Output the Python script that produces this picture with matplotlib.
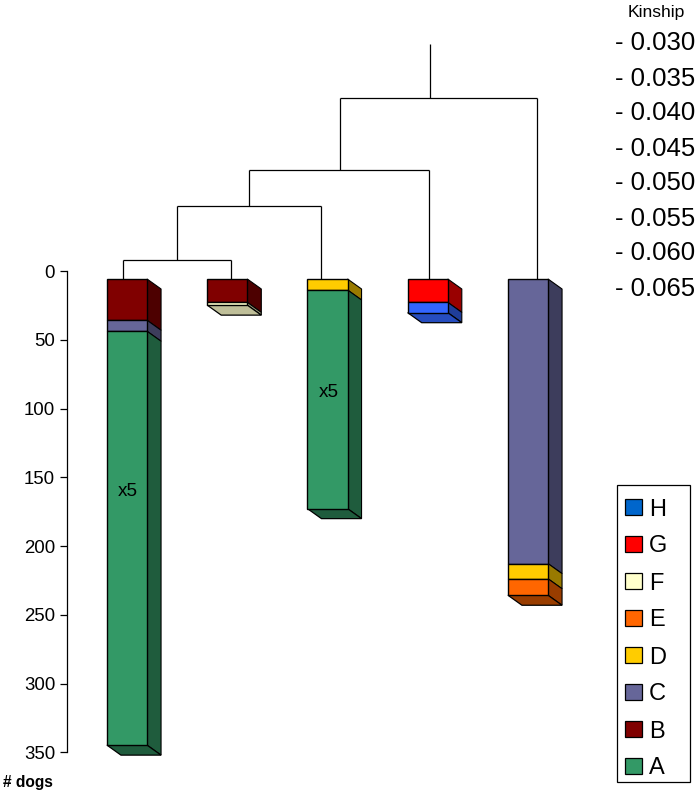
import matplotlib
matplotlib.use("Agg")
import matplotlib.pyplot as plt
from matplotlib.patches import Polygon, Rectangle
from matplotlib.colors import to_rgb

plt.rcParams["font.family"] = ["Liberation Sans", "DejaVu Sans"]

# Colours of the groups
group_names = ["H", "G", "F", "E", "D", "C", "B", "A"]
legend_colors = ["#0066CC", "#FF0000", "#FFFFCC", "#FF6600", "#FFCC00", "#666699", "#800000", "#339966"]
bar_colors = {"A": "#339966", "B": "#800000", "C": "#666699", "D": "#FFCC00",
              "E": "#FF6600", "F": "#FFFFCC", "G": "#FF0000", "H": "#3366FF"}

# Stacked bars, top to bottom
bar_groups = [["B", "C", "A"], ["B", "F"], ["D", "A"], ["G", "H"], ["C", "D", "E"]]
bar_values = [[30, 8, 301], [17, 2], [8, 159], [17, 7.5], [207, 11, 12]]
note_bars = [0, 2]
note_dogs = [160, 88]

# Dendrogram, x in bar positions, height in kinship
merge_left = [-0.04, 0.5, 1.22, 2.12]
merge_right = [1.04, 1.94, 3.01, 4.09]
merge_kin = [0.0613, 0.0536, 0.0484, 0.0381]
stem_x = [-0.04, 1.04, 0.5, 1.94, 1.22, 3.01, 2.12, 4.09, 3.02]
stem_top = [0.0613, 0.0613, 0.0536, 0.0536, 0.0484, 0.0484, 0.0381, 0.0381, 0.0304]
stem_bottom = [0.0640, 0.0640, 0.0613, 0.0640, 0.0536, 0.0640, 0.0484, 0.0640, 0.0381]

dog_ticks = [0, 50, 100, 150, 200, 250, 300, 350]
kin_ticks = [0.030, 0.035, 0.040, 0.045, 0.050, 0.055, 0.060, 0.065]


def darker(color, k=0.6):
    return tuple(c * k for c in to_rgb(color))


W, H = 699, 793
fig = plt.figure(figsize=(W / 100, H / 100), dpi=100)
ax = fig.add_axes([0, 0, 1, 1])

# pixel scale of the two axes
px_x = 100.25
px_y = 1.375
ax.set_xlim(-127 / px_x, (W - 127) / px_x)
ax.set_ylim((H - 271) / px_y, -271 / px_y)

for s in ["top", "right", "bottom"]:
    ax.spines[s].set_visible(False)
ax.spines["left"].set_position(("data", -60 / px_x))
ax.spines["left"].set_bounds(0, 350)
ax.spines["left"].set_linewidth(0.9)
ax.set_xticks([])
ax.set_yticks(dog_ticks)
ax.tick_params(axis="y", length=5, width=0.9, pad=3.5, labelsize=13.4)

# 3d bars
bar_w = 0.4
dx = 14 / px_x
dy = 10 / px_y
start = 8 / px_y
for i, (groups, values) in enumerate(zip(bar_groups, bar_values)):
    x0 = i - 0.2
    x1 = x0 + bar_w
    y = start
    for g, v in zip(groups, values):
        c = bar_colors[g]
        ax.add_patch(Rectangle((x0, y), bar_w, v, fc=c, ec="black", lw=1.0, zorder=3))
        ax.add_patch(Polygon([(x1, y), (x1 + dx, y + dy), (x1 + dx, y + v + dy), (x1, y + v)],
                             fc=darker(c), ec="black", lw=0.8, zorder=2))
        y += v
    k = 0.75 if groups[-1] in ("F", "H") else 0.6
    ax.add_patch(Polygon([(x0, y), (x1, y), (x1 + dx, y + dy), (x0 + dx, y + dy)],
                         fc=darker(bar_colors[groups[-1]], k), ec="black", lw=0.9, zorder=2))

for i, d in zip(note_bars, note_dogs):
    ax.text(i + 0.01, d, "x5", fontsize=13.6, ha="center", va="center", zorder=4)

fig.text(3 / W, 1 - 782 / H, "# dogs", fontsize=11.2, va="center", fontweight="bold")
fig.text(628 / W, 1 - 12 / H, "Kinship", fontsize=12.6, va="center")

# kinship axis on the same figure
ax2 = ax.twinx()
ax2.set_zorder(1)
ax2.patch.set_visible(False)
kin_px = 7000.0
ax2.set_ylim(0.030 + (H - 41) / kin_px, 0.030 - 41 / kin_px)
for s in ax2.spines.values():
    s.set_visible(False)
ax2.set_yticks(kin_ticks)
ax2.set_yticklabels(["- %.3f" % k for k in kin_ticks], ha="left")
ax2.tick_params(axis="y", length=0, pad=-60.5, labelsize=18.5, right=False, labelright=True)

ax2.hlines(merge_kin, merge_left, merge_right, color="black", lw=0.9)
ax2.vlines(stem_x, stem_top, stem_bottom, color="black", lw=0.9)

# legend box, drawn by hand to get the row spacing of the original
fig.add_artist(Rectangle((617 / W, 1 - 782 / H), 73 / W, 297 / H, transform=fig.transFigure,
                         fc="white", ec="black", lw=0.9, zorder=5))
for n, (name, c) in enumerate(zip(group_names, legend_colors)):
    row = 507 + n * 37
    fig.add_artist(Rectangle((625 / W, 1 - (row + 8) / H), 17 / W, 16 / H, transform=fig.transFigure,
                             fc=c, ec="black", lw=0.9, zorder=6))
    fig.text(649 / W, 1 - row / H, name, fontsize=17, va="center_baseline", zorder=6)

fig.savefig("out.png", dpi=100)
